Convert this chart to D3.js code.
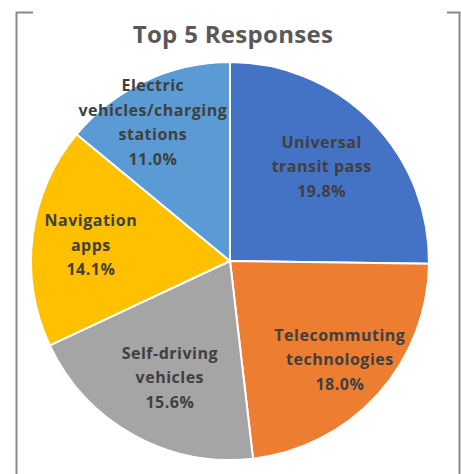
<!DOCTYPE html>
<html>
<head>
<meta charset="utf-8">
<script src="https://cdn.jsdelivr.net/npm/d3@7"></script>
<style>
  html, body { margin: 0; padding: 0; background: #fff; }
  svg { display: block; }
</style>
</head>
<body>
<svg id="chart" width="461" height="474"></svg>
<script>
// Survey responses, clockwise from 12 o'clock
const categories = [
  ["Universal", "transit pass"],
  ["Telecommuting", "technologies"],
  ["Self-driving", "vehicles"],
  ["Navigation", "apps"],
  ["Electric", "vehicles/charging", "stations"]
];
const shares = [19.8, 18.0, 15.6, 14.1, 11.0];
const sliceColors = ["#4472C4", "#ED7D31", "#A5A5A5", "#FFC000", "#5B9BD5"];
const title = "Top 5 Responses";

const W = 461, H = 474;
const cx = 230, cy = 261, R = 199;

// label placement along each slice: radius and small angular shift (degrees)
const labelRadius = [131, 148, 132, 140, 158];
const labelShift = [-1, 0, -2, -1, -4];
const lineHeight = 24.5;
const fontFamily = "'Open Sans', Lato, sans-serif";

const svg = d3.select("#chart");

// frame: two side rules with short top stubs
const frame = svg.append("g").attr("stroke", "#898989").attr("stroke-width", 2).attr("fill", "none");
frame.append("path").attr("d", "M33,12.5 H16.5 V474");
frame.append("path").attr("d", "M447,12.5 H459.5 V474");

svg.append("text")
  .attr("x", 233).attr("y", 43)
  .attr("text-anchor", "middle")
  .attr("font-family", fontFamily)
  .attr("font-weight", 700)
  .attr("font-size", 24)
  .attr("letter-spacing", 0.3)
  .attr("fill", "#595959")
  .text(title);

const data = shares.map((v, i) => ({ lines: categories[i], value: v, color: sliceColors[i] }));

const pie = d3.pie().sort(null).value(d => d.value).startAngle(0).endAngle(2 * Math.PI);
const arc = d3.arc().innerRadius(0).outerRadius(R);
const arcs = pie(data);

const g = svg.append("g").attr("transform", `translate(${cx},${cy})`);

g.selectAll("path.slice")
  .data(arcs)
  .join("path")
  .attr("class", "slice")
  .attr("d", arc)
  .attr("fill", d => d.data.color)
  .attr("stroke", "#fff")
  .attr("stroke-width", 2)
  .attr("stroke-linejoin", "round");

const fmt = d3.format(".1f");

const labels = g.selectAll("text.lbl")
  .data(arcs)
  .join("text")
  .attr("class", "lbl")
  .attr("text-anchor", "middle")
  .attr("font-family", fontFamily)
  .attr("font-weight", 700)
  .attr("font-size", 16)
  .attr("letter-spacing", 0.5)
  .attr("fill", "#404040");

labels.each(function(d, i) {
  const mid = (d.startAngle + d.endAngle) / 2 + labelShift[i] * Math.PI / 180;
  const r = labelRadius[i];
  const x = r * Math.sin(mid);
  const y = -r * Math.cos(mid);
  const lines = d.data.lines.concat([fmt(d.data.value) + "%"]);
  const n = lines.length;
  const t = d3.select(this);
  lines.forEach((ln, k) => {
    t.append("tspan")
      .attr("x", x)
      .attr("y", y + (k - (n - 1) / 2) * lineHeight + 5)
      .text(ln);
  });
});
</script>
</body>
</html>
